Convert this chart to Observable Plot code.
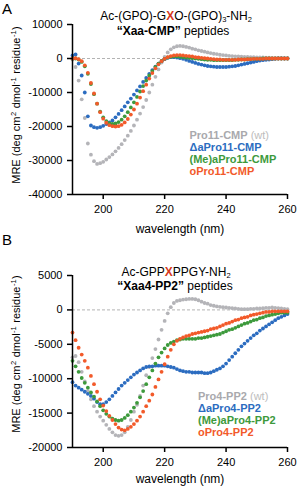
<!DOCTYPE html>
<html><head><meta charset="utf-8">
<script src="https://cdn.jsdelivr.net/npm/d3@7"></script>
<script src="https://cdn.jsdelivr.net/npm/@observablehq/plot@0.6"></script>
<style>
body{margin:0;background:#fff;}
#wrap{position:relative;width:298px;height:491px;overflow:hidden;font-family:"Liberation Sans",Arial,Helvetica,sans-serif;}
.pl{position:absolute;left:0;}
#ov{position:absolute;left:0;top:0;}
</style></head><body><div id="wrap"><div id="pA" class="pl" style="top:0"></div><div id="pB" class="pl" style="top:250px"></div></div>
<script>
// wavelengths (nm), 1 nm steps
const wavelengths = [190,191,192,193,194,195,196,197,198,199,200,201,202,203,204,205,206,207,208,209,210,211,212,213,214,215,216,217,218,219,220,221,222,223,224,225,226,227,228,229,230,231,232,233,234,235,236,237,238,239,240,241,242,243,244,245,246,247,248,249,250,251,252,253,254,255,256,257,258,259,260];
const xTicks = [200,220,240,260];
const yTicksA = [10000,0,-10000,-20000,-30000,-40000];
const yTicksB = [5000,0,-5000,-10000,-15000,-20000];
const seriesNamesA = ["Pro11-CMP (wt)","ΔaPro11-CMP","(Me)aPro11-CMP","oPro11-CMP"];
const seriesNamesB = ["Pro4-PP2 (wt)","ΔaPro4-PP2","(Me)aPro4-PP2","oPro4-PP2"];
const colors = ["#b4b4b8","#2b6cc0","#3d9a3c","#f25a2a"];

// Panel A: MRE values
const grayA = [-300,-2500,-6500,-12000,-17500,-25000,-28300,-30200,-31000,-30800,
 -30400,-29700,-29000,-28200,-27300,-26300,-25200,-24000,-22700,-21300,
 -19700,-18000,-16200,-14300,-12200,-10000,-7700,-5400,-3200,-1200,
 500,1800,2700,3300,3600,3700,3600,3400,3200,2900,
 2700,2400,2200,2000,1800,1600,1400,1300,1100,1000,
 900,800,700,650,600,550,500,450,400,400,
 350,300,300,250,250,200,200,150,150,100,
 100];
const blueA = [900,1200,-1500,-5000,-10000,-17000,-19700,-20200,-20400,-20200,
 -19800,-19300,-18800,-18200,-17300,-16300,-15200,-14100,-12900,-11800,
 -10600,-9400,-8200,-6900,-5700,-4500,-3400,-2400,-1500,-800,
 -200,200,400,400,300,100,-100,-400,-700,-1000,
 -1300,-1600,-1800,-2000,-2200,-2300,-2400,-2500,-2500,-2500,
 -2500,-2400,-2300,-2200,-2000,-1800,-1600,-1400,-1200,-1000,
 -800,-600,-500,-400,-300,-200,-100,0,0,0,
 0];
const greenA = [0,0,-300,-1000,-2300,-4500,-7500,-10500,-13300,-15600,
 -17300,-18400,-19000,-19200,-19100,-18700,-18000,-17000,-15800,-14400,
 -12900,-11300,-9700,-8100,-6500,-5000,-3700,-2500,-1500,-700,
 -100,300,500,600,600,500,400,300,200,100,
 0,-100,-200,-300,-400,-400,-500,-500,-500,-500,
 -500,-500,-500,-400,-400,-300,-300,-200,-200,-100,
 -100,-100,0,0,0,0,0,0,0,0,
 0];
const orangeA = [0,100,-200,-800,-2000,-4200,-7200,-10300,-13300,-15800,
 -17700,-18900,-19600,-19900,-20000,-19900,-19500,-18800,-17800,-16500,
 -15000,-13300,-11500,-9600,-7700,-5900,-4300,-2900,-1700,-800,
 -100,400,700,900,1000,1000,900,800,700,600,
 400,300,200,100,0,-100,-200,-300,-300,-400,
 -400,-400,-400,-400,-300,-300,-300,-200,-200,-100,
 -100,-100,-100,0,0,0,0,0,0,0,
 0];

// Panel B: MRE values
const grayB = [-6900,-6700,-7600,-9000,-10400,-11800,-13000,-14000,-14800,-15500,
 -16100,-16700,-17300,-17800,-18200,-18300,-18200,-17800,-17000,-16000,
 -14800,-13800,-12500,-11000,-9500,-8300,-7000,-5700,-4300,-2900,
 -1600,-500,400,1000,1300,1400,1500,1550,1600,1600,
 1550,1400,1200,1000,900,700,600,500,450,400,
 350,300,250,200,150,100,100,100,150,150,
 200,200,250,300,300,350,300,250,200,150,
 100];
const blueB = [-10500,-11000,-11300,-11600,-11900,-12200,-12500,-12900,-13400,-13700,
 -13700,-13400,-13000,-12500,-12000,-11500,-11000,-10600,-10200,-9800,
 -9400,-9100,-8800,-8500,-8300,-8200,-8200,-8100,-8100,-8100,
 -8100,-8200,-8300,-8400,-8600,-8800,-8900,-9000,-9000,-9100,
 -9100,-9100,-9100,-9200,-9200,-9100,-8900,-8700,-8500,-8200,
 -7800,-7300,-6800,-6300,-5800,-5300,-4900,-4500,-4100,-3700,
 -3400,-3000,-2700,-2400,-2100,-1800,-1500,-1200,-1000,-800,
 -600];
const greenB = [-7400,-8200,-9000,-9900,-10600,-11300,-12000,-12600,-13300,-14000,
 -14600,-15100,-15500,-15800,-16000,-16100,-16000,-15700,-15300,-14800,
 -14200,-13500,-12700,-11800,-10800,-9800,-8800,-7800,-6900,-6200,
 -5600,-5100,-4800,-4600,-4400,-4300,-4200,-4200,-4200,-4200,
 -4200,-4100,-4100,-4000,-3900,-3800,-3700,-3600,-3500,-3300,
 -3100,-2900,-2800,-2600,-2400,-2200,-2000,-1900,-1700,-1500,
 -1400,-1200,-1100,-900,-800,-700,-600,-500,-400,-400,
 -400];
const orangeB = [-3300,-4400,-5500,-6500,-7400,-8400,-9600,-10800,-11900,-13000,
 -13900,-14700,-15400,-16000,-16600,-17100,-17400,-17500,-17300,-17000,
 -16600,-16100,-15500,-14800,-14000,-13200,-12300,-11200,-10100,-9000,
 -7900,-6800,-5800,-5000,-4500,-4200,-4000,-3800,-3700,-3500,
 -3400,-3300,-3200,-3100,-3000,-2800,-2700,-2600,-2400,-2200,
 -2000,-1900,-1700,-1500,-1400,-1200,-1100,-1000,-800,-700,
 -600,-500,-400,-300,-300,-200,-200,-200,-200,-200,
 -200];

const FONT = '"Liberation Sans", Arial, Helvetica, sans-serif';

function rows(vals, name) { return vals.map((v, i) => ({wl: wavelengths[i], mre: v, name})); }

function panel({series, names, yDomain, yTicks, height, marginTop, marginBottom}) {
  const dots = series.map((s, i) => Plot.dot(rows(s, names[i]), {x: "wl", y: "mre", r: 1.9, fill: colors[i]}));
  return Plot.plot({
    width: 298, height, marginLeft: 72, marginRight: 11, marginTop, marginBottom,
    x: {domain: [190, 260]},
    y: {domain: yDomain},
    style: {fontFamily: FONT, fontSize: "11px", color: "#000", background: "transparent"},
    marks: [
      Plot.ruleY([0], {stroke: "#a0a0a0", strokeDasharray: "3,2", strokeWidth: 0.8}),
      ...dots,
      Plot.ruleX([190], {stroke: "#000", strokeWidth: 1.5}),
      Plot.ruleY([yDomain[0]], {stroke: "#000", strokeWidth: 1.5}),
      Plot.axisY({ticks: yTicks, tickSize: 5, tickPadding: 5, tickFormat: d => String(d), strokeWidth: 1.5, label: null}),
      Plot.axisX({ticks: xTicks, tickSize: 5, tickPadding: 6, tickFormat: d => String(d), strokeWidth: 1.5, label: null})
    ]
  });
}

document.getElementById("pA").appendChild(panel({series: [grayA, blueA, greenA, orangeA], names: seriesNamesA,
  yDomain: [-40000, 10000], yTicks: yTicksA, height: 245, marginTop: 24, marginBottom: 51}));
document.getElementById("pB").appendChild(panel({series: [grayB, blueB, greenB, orangeB], names: seriesNamesB,
  yDomain: [-20000, 5000], yTicks: yTicksB, height: 241, marginTop: 25, marginBottom: 44}));

// overlay texts
const svgNS = "http://www.w3.org/2000/svg";
const ov = document.createElementNS(svgNS, "svg");
ov.setAttribute("id", "ov"); ov.setAttribute("width", 298); ov.setAttribute("height", 491);
ov.setAttribute("font-family", FONT);
document.getElementById("wrap").appendChild(ov);
const yLab = `MRE (deg cm<tspan font-size="7.5" dy="-4" dx="0.5">2</tspan><tspan dy="4" dx="0.5"> dmol</tspan><tspan font-size="7.5" dy="-4" dx="0.5">-1</tspan><tspan dy="4" dx="0.5"> residue</tspan><tspan font-size="7.5" dy="-4" dx="0.5">-1</tspan><tspan dy="4" dx="0.5">)</tspan>`;
const red = "#d6391c";
let html = "";
html += `<text x="2" y="13.5" font-size="15">A</text>`;
html += `<text x="2" y="245" font-size="15">B</text>`;
// titles
html += `<text x="176" y="20.2" font-size="12" text-anchor="middle">Ac-(GPO)-G<tspan fill="${red}" font-weight="bold">X</tspan>O-(GPO)<tspan font-size="7.5" dy="2">3</tspan><tspan dy="-2">-NH</tspan><tspan font-size="7.5" dy="2">2</tspan></text>`;
html += `<text x="173" y="34.6" font-size="12" text-anchor="middle"><tspan font-weight="bold">“Xaa-CMP”</tspan> peptides</text>`;
html += `<text x="176" y="275.6" font-size="12" text-anchor="middle">Ac-GPP<tspan fill="${red}" font-weight="bold">X</tspan>PPGY-NH<tspan font-size="7.5" dy="2">2</tspan></text>`;
html += `<text x="175" y="290.2" font-size="12" text-anchor="middle"><tspan font-weight="bold">“Xaa4-PP2”</tspan> peptides</text>`;
// axis titles
html += `<text x="180" y="233" font-size="12" text-anchor="middle">wavelength (nm)</text>`;
html += `<text x="180" y="483" font-size="12" text-anchor="middle">wavelength (nm)</text>`;
html += `<text transform="translate(19.5,105) rotate(-90)" font-size="11" text-anchor="middle">${yLab}</text>`;
html += `<text transform="translate(19.5,354) rotate(-90)" font-size="11" text-anchor="middle">${yLab}</text>`;
// legends (one text element per legend, one line per series)
function legend(x, y0, names) {
  let s = `<text y="${y0}" font-size="11" font-weight="bold">`;
  names.forEach((n, i) => {
    const dy = i === 0 ? 0 : 12;
    if (n.endsWith(" (wt)")) {
      s += `<tspan x="${x}" dy="${dy}" fill="#a9a9ad">${n.replace(" (wt)", "")}<tspan font-weight="normal" fill="#bdbdbd"> (wt)</tspan></tspan>`;
    } else {
      s += `<tspan x="${x}" dy="${dy}" fill="${colors[i]}">${n}</tspan>`;
    }
  });
  return s + `</text>`;
}
html += legend(189.5, 139, seriesNamesA);
html += legend(198, 400, seriesNamesB);
ov.innerHTML = html;
</script>
</body></html>
